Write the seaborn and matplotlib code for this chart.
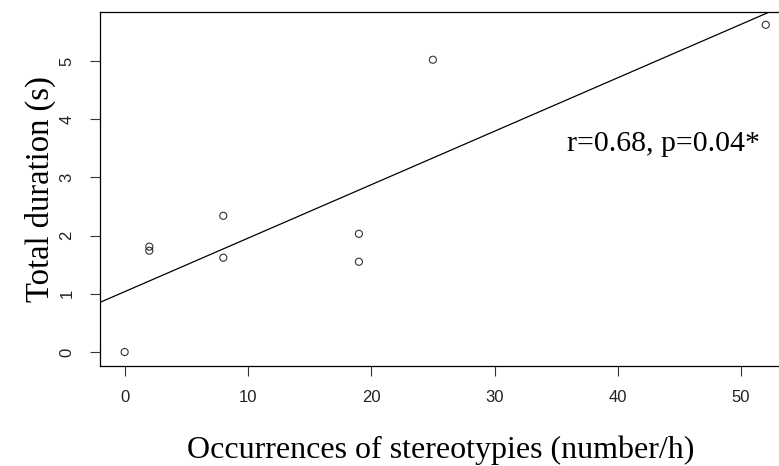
import numpy as np
import pandas as pd
import matplotlib
matplotlib.use("Agg")
import matplotlib.pyplot as plt
import seaborn as sns

occurrences = [0, 2, 2, 8, 8, 19, 19, 25, 52]
duration = [0.0, 1.81, 1.74, 2.34, 1.62, 2.03, 1.55, 5.02, 5.62]
x_ticks = [0, 10, 20, 30, 40, 50]
y_ticks = [0, 1, 2, 3, 4, 5]
annotation = "r=0.68, p=0.04*"
x_label = "Occurrences of stereotypies (number/h)"
y_label = "Total duration (s)"

df = pd.DataFrame({"occ": occurrences, "dur": duration})

sns.set_style("white")
fig = plt.figure(figsize=(7.79, 4.66), dpi=100)
ax = fig.add_axes([100 / 779, 100 / 466, 1 - 100 / 779 + 0.002, (366 - 12) / 466])
ax.set_xlim(-2.0, 53.2)
ax.set_ylim(-0.24, 5.84)

sns.regplot(data=df, x="occ", y="dur", ax=ax, ci=None, truncate=False,
            scatter_kws=dict(s=26, facecolors="none", edgecolors="black", linewidths=0.8),
            line_kws=dict(color="black", linewidth=0.9))
ax.set_xlim(-2.0, 53.2)
ax.set_ylim(-0.24, 5.84)

ax.set_xticks(x_ticks)
ax.set_yticks(y_ticks)
ax.set_xticklabels([str(t) for t in x_ticks], fontfamily="Liberation Sans", fontsize=12, color="#222222")
ax.set_yticklabels([str(t) for t in y_ticks], fontfamily="Liberation Sans", fontsize=12, color="#222222",
                   rotation=90, va="center")
ax.tick_params(axis="x", direction="out", length=7.5, width=0.8, color="#333333", pad=10, bottom=True)
ax.tick_params(axis="y", direction="out", length=7.5, width=0.8, color="#333333", pad=11, left=True)

for side in ["left", "bottom", "top"]:
    ax.spines[side].set_color("black")
    ax.spines[side].set_linewidth(0.9)
ax.spines["right"].set_visible(False)

ax.set_xlabel(x_label, fontfamily="Liberation Serif", fontsize=23, labelpad=22, color="black")
ax.set_ylabel(y_label, fontfamily="Liberation Serif", fontsize=23.5, labelpad=2.5, color="black")

ax.text(35.9, 3.46, annotation, fontfamily="Liberation Serif", fontsize=21.5,
        ha="left", va="baseline", color="black")

fig.savefig("out.png", dpi=100)
